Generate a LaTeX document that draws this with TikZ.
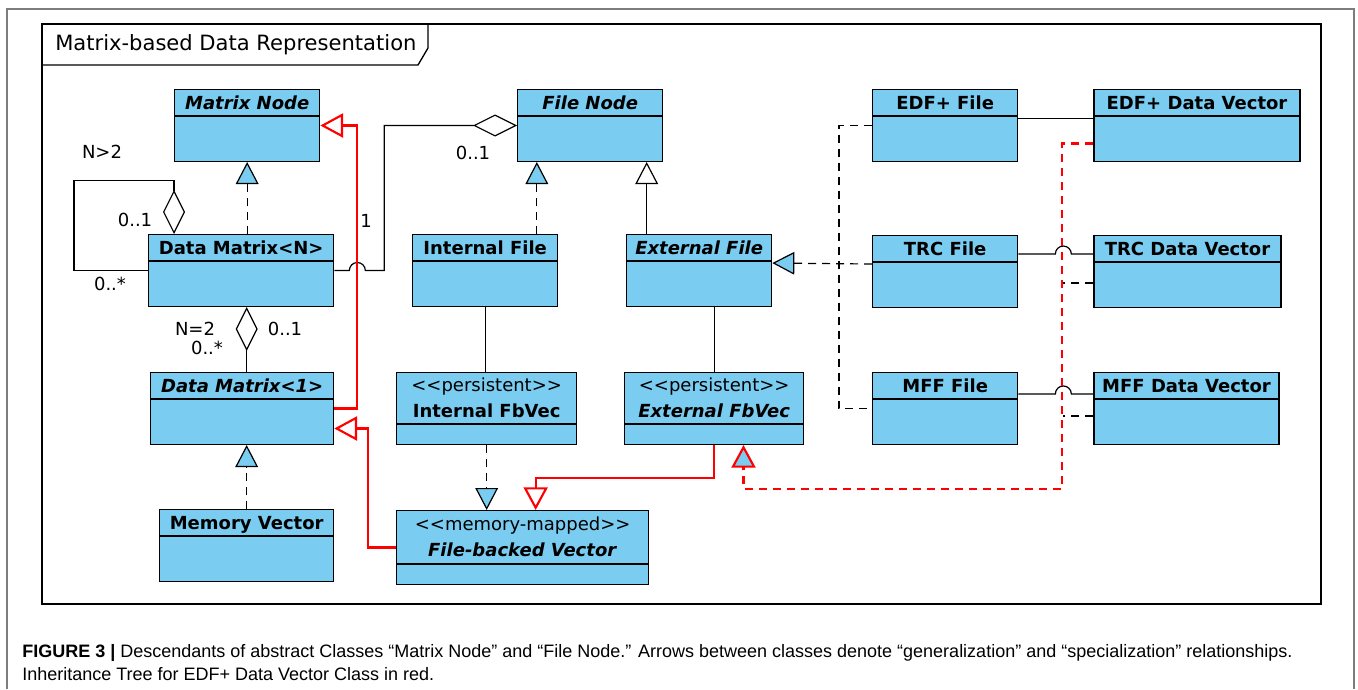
\documentclass[tikz,border=0pt]{standalone}
\usepackage{fontspec}
\setmainfont{DejaVu Sans}
\newfontfamily\capfont{Liberation Sans}
\usetikzlibrary{positioning,shapes.multipart,arrows.meta}
\definecolor{clsblue}{RGB}{122,204,240}
\definecolor{umlred}{RGB}{255,0,0}
\definecolor{framegray}{RGB}{125,125,125}
% struts for the two compartments of a class box
\newcommand\hd{\rule[-4.5pt]{0pt}{18.75pt}}
\newcommand\bd{\rule{0pt}{33pt}}
\newcommand\bds{\rule{0pt}{14.25pt}}
\newcommand\vgap{48.75pt}
\newcommand\hgap{56.25pt}
\newcommand\dropa{54.75pt}
\newcommand\dropb{48pt}

\tikzset{
  cls/.style={rectangle split, rectangle split parts=2, draw, line width=1pt,
    fill=clsblue, anchor=north west, minimum width=#1*0.75pt,
    inner xsep=0pt, inner ysep=0pt, align=center,
    font=\fontsize{13.5}{19.5}\selectfont\bfseries},
  mult/.style={font=\fontsize{13.5}{16}\selectfont, inner sep=0pt},
  conn/.style={line width=0.9pt},
  dsh/.style={conn, dash pattern=on 6pt off 4.5pt},
  realize/.style={dsh, -{Triangle[fill=clsblue, length=16.5pt, width=17pt]}},
  gen/.style={conn, -{Triangle[fill=white, length=16.5pt, width=17pt]}},
  aggr/.style={conn, -{Diamond[fill=white, length=33pt, width=16.5pt]}},
  redgen/.style={line width=1.6pt, umlred, -{Triangle[fill=white, length=17pt, width=18pt]}},
  redreal/.style={line width=1.6pt, umlred, dash pattern=on 6pt off 4.5pt,
    -{Triangle[fill=clsblue, length=17pt, width=18pt]}},
}

\begin{document}
\begin{tikzpicture}[x=0.75pt, y=-0.75pt]
  \useasboundingbox (0,0) rectangle (1358,689);
  % page frame and diagram frame
  \draw[framegray, line width=0.8pt] (7,689) -- (7,9) -- (1354,9) -- (1354,689);
  \draw[line width=1pt] (42,24) rectangle (1321,604);
  \draw[line width=1pt] (42,65) -- (418,65) -- (428,48) -- (428,24);
  \node[anchor=west, font=\fontsize{15.8}{18}\selectfont, inner sep=0pt] (title) at (55,45)
    {Matrix-based Data Representation};

  % matrix side
  \node[cls=145] (mnode) at (174,89) {\hd\textit{Matrix Node}\nodepart{two}\bd};
  \node[cls=185] (dmn) at (148,234) {\hd Data Matrix<N>\nodepart{two}\bd};
  \node[cls=183] (dm1) at (150,372) {\hd\textit{Data Matrix<1>}\nodepart{two}\bd};
  \node[cls=174] (memvec) at (159,509) {\hd Memory Vector\nodepart{two}\bd};

  % file side
  \node[cls=145] (fnode) at (517,89) {\hd\textit{File Node}\nodepart{two}\bd};
  \node[cls=145] (intfile) at (412,234) {\hd Internal File\nodepart{two}\bd};
  \node[cls=145] (extfile) at (626,234) {\hd\textit{External File}\nodepart{two}\bd};
  \node[cls=180] (intfb) at (396,372)
    {\rule{0pt}{13.5pt}\textmd{<{}<persistent>{}>}\\\rule[-4.5pt]{0pt}{4.5pt}Internal FbVec\nodepart{two}\bds};
  \node[cls=179] (extfb) at (624,372)
    {\rule{0pt}{13.5pt}\textmd{<{}<persistent>{}>}\\\rule[-4.5pt]{0pt}{4.5pt}\textit{External FbVec}\nodepart{two}\bds};
  \node[cls=252, below=\vgap of intfb.south west, anchor=north west] (fbvec)
    {\rule{0pt}{14.25pt}\textmd{<{}<memory-mapped>{}>}\\\rule[-5.25pt]{0pt}{5.25pt}\textit{File-backed Vector}\nodepart{two}\bds};

  % concrete formats
  \node[cls=145] (edffile) at (872,89) {\hd EDF+ File\nodepart{two}\bd};
  \node[cls=145, below=\dropa of edffile.south west, anchor=north west] (trcfile) {\hd TRC File\nodepart{two}\bd};
  \node[cls=145, below=\dropb of trcfile.south west, anchor=north west] (mfffile) {\hd MFF File\nodepart{two}\bd};
  \node[cls=206, right=\hgap of edffile.north east, anchor=north west] (edfvec) {\hd EDF+ Data Vector\nodepart{two}\bd};
  \node[cls=187, right=\hgap of trcfile.north east, anchor=north west] (trcvec) {\hd TRC Data Vector\nodepart{two}\bd};
  \node[cls=185, right=\hgap of mfffile.north east, anchor=north west] (mffvec) {\hd MFF Data Vector\nodepart{two}\bd};

  % multiplicities
  \node[mult] (nbig) at (102,152) {N>2};
  \node[mult] (selfone) at (135,220) {0..1};
  \node[mult] (selfmany) at (110,284) {0..*};
  \node[mult] (ntwo) at (195,329) {N=2};
  \node[mult] (twomany) at (207,348) {0..*};
  \node[mult] (twoone) at (285,329) {0..1};
  \node[mult] (fone) at (366,221) {1};
  \node[mult] (fopt) at (473,153) {0..1};

  % black relations
  \draw[realize] (mnode.south |- dmn.north) -- (mnode.south);
  \draw[realize] (memvec.north) -- (memvec.north |- dm1.south);
  \draw[aggr] (dmn.west) -- ++(-74,0) |- ++(100,-90) -- ([xshift=19.5pt]dmn.north west);
  \draw[aggr] ([xshift=3.4pt]dm1.north) -- ([xshift=3.4pt]dm1.north |- dmn.south);
  \draw[aggr] (dmn.east) -- ++(15,0) arc[start angle=180, end angle=0, radius=6pt]
    -- ++(19,0) |- (fnode.west);
  \draw[realize] ([xshift=-40pt]fnode.south |- intfile.north) -- ([xshift=-40pt]fnode.south);
  \draw[gen] ([xshift=42.4pt]fnode.south |- extfile.north) -- ([xshift=42.4pt]fnode.south);
  \draw[conn] (intfile.south) -- (intfile.south |- intfb.north);
  \draw[conn] (extfb.north |- extfile.south) -- (extfb.north);
  \draw[realize] (intfb.south) -- (intfb.south |- fbvec.north);
  \draw[realize] ([yshift=5.6pt]trcfile.west) -- ([yshift=5.6pt]extfile.east);
  \draw[dsh] (edffile.west) -- ++(-33,0) |- (mfffile.west);
  \draw[conn] ([yshift=5.25pt]edffile.east) -- ([yshift=5.25pt]edfvec.west);
  \draw[conn] ([yshift=13.1pt]trcfile.east) -- ++(37,0) arc[start angle=180, end angle=0, radius=6pt]
    -- ([yshift=13.1pt]trcvec.west);
  \draw[conn] ([yshift=10.9pt]mfffile.east) -- ++(37,0) arc[start angle=180, end angle=0, radius=6pt]
    -- ([yshift=10.9pt]mffvec.west);
  \draw[dsh] ([yshift=-8.6pt]trcvec.west) -- ++(-30,0);
  \draw[dsh] ([yshift=-5.6pt]mffvec.west) -- ++(-30,0);

  % inheritance tree of the EDF+ data vector
  \coordinate (rbend) at (1062,489);
  \draw[redgen] (dm1.east) -- ++(23,0) |- (mnode.east);
  \draw[redgen] (fbvec.west) -- ++(-28,0) |- ([yshift=-15pt]dm1.east);
  \draw[redgen] (extfb.south) -- ++(0,33) -| ([xshift=9.75pt]fbvec.north);
  \draw[redreal] ([yshift=-13.5pt]edfvec.west) -| (rbend) -| ([xshift=22pt]extfb.south);

  % caption
  \node[anchor=base west, inner sep=0pt, font=\capfont\fontsize{13.5}{16}\selectfont] (cap1) at (22,657)
    {\textbf{FIGURE 3 |} Descendants of abstract Classes “Matrix Node” and “File Node.” Arrows between classes denote “generalization” and “specialization” relationships.};
  \node[anchor=base west, inner sep=0pt, font=\capfont\fontsize{13.5}{16}\selectfont] (cap2) at (22,680)
    {Inheritance Tree for EDF+ Data Vector Class in red.};
\end{tikzpicture}
\end{document}
